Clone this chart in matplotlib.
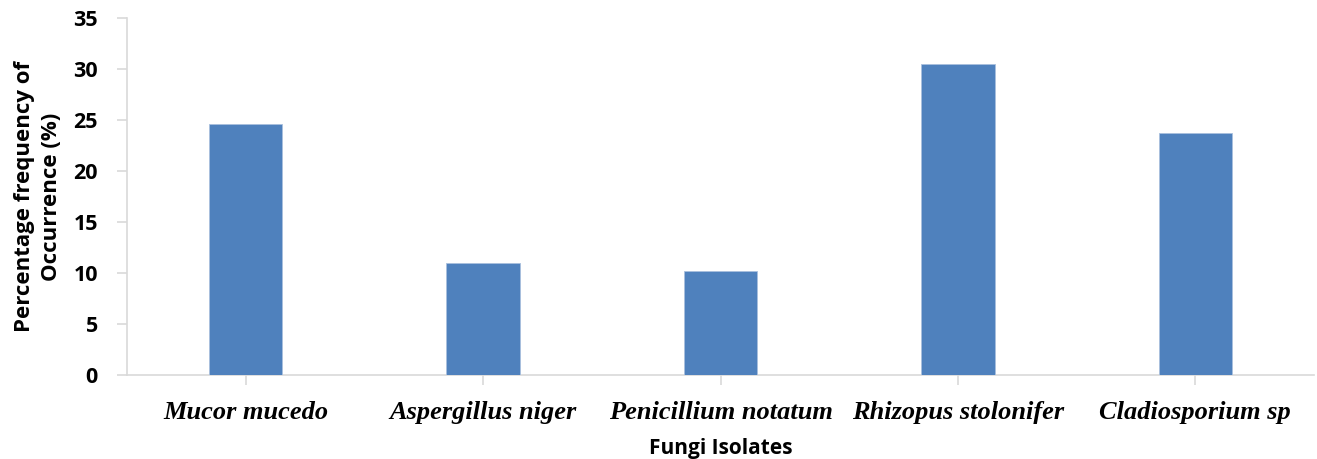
import matplotlib
matplotlib.use("Agg")
import matplotlib.pyplot as plt

categories = ["Mucor mucedo", "Aspergillus niger", "Penicillium notatum",
              "Rhizopus stolonifer", "Cladiosporium sp"]
values = [24.6, 11.0, 10.2, 30.5, 23.7]
yticks = [0, 5, 10, 15, 20, 25, 30, 35]

fig = plt.figure(figsize=(13.17, 4.59), dpi=100)
ax = fig.add_axes([127/1317, 1 - 375/459, (1314 - 127)/1317, (375 - 18)/459])

x = list(range(len(categories)))
ax.bar(x, values, width=0.31, color="#4F81BD", edgecolor="#A9C0DE", linewidth=0.6, zorder=3)

ax.set_xlim(-0.5, len(categories) - 0.5)
ax.set_ylim(0, 35)
ax.set_yticks(yticks)
ax.set_yticklabels([str(t) for t in yticks], fontfamily="Open Sans", fontweight="bold", fontsize=15.5)
ax.set_xticks(x)
ax.set_xticklabels(categories, fontfamily="Liberation Serif", fontweight="bold",
                   fontstyle="italic", fontsize=19)

for s in ["top", "right"]:
    ax.spines[s].set_visible(False)
for s in ["left", "bottom"]:
    ax.spines[s].set_color("#D9D9D9")
    ax.spines[s].set_linewidth(1.2)
ax.tick_params(axis="both", color="#D9D9D9", length=7, width=1.2)
ax.tick_params(axis="y", pad=14)
ax.tick_params(axis="x", pad=12)

ax.set_ylabel("Percentage frequency of\nOccurrence (%)", fontfamily="Open Sans",
              fontweight="bold", fontsize=16, labelpad=8, linespacing=1.4)
ax.set_xlabel("Fungi Isolates", fontfamily="Open Sans", fontweight="bold", fontsize=15, labelpad=10)

fig.savefig("out.png", dpi=100)
